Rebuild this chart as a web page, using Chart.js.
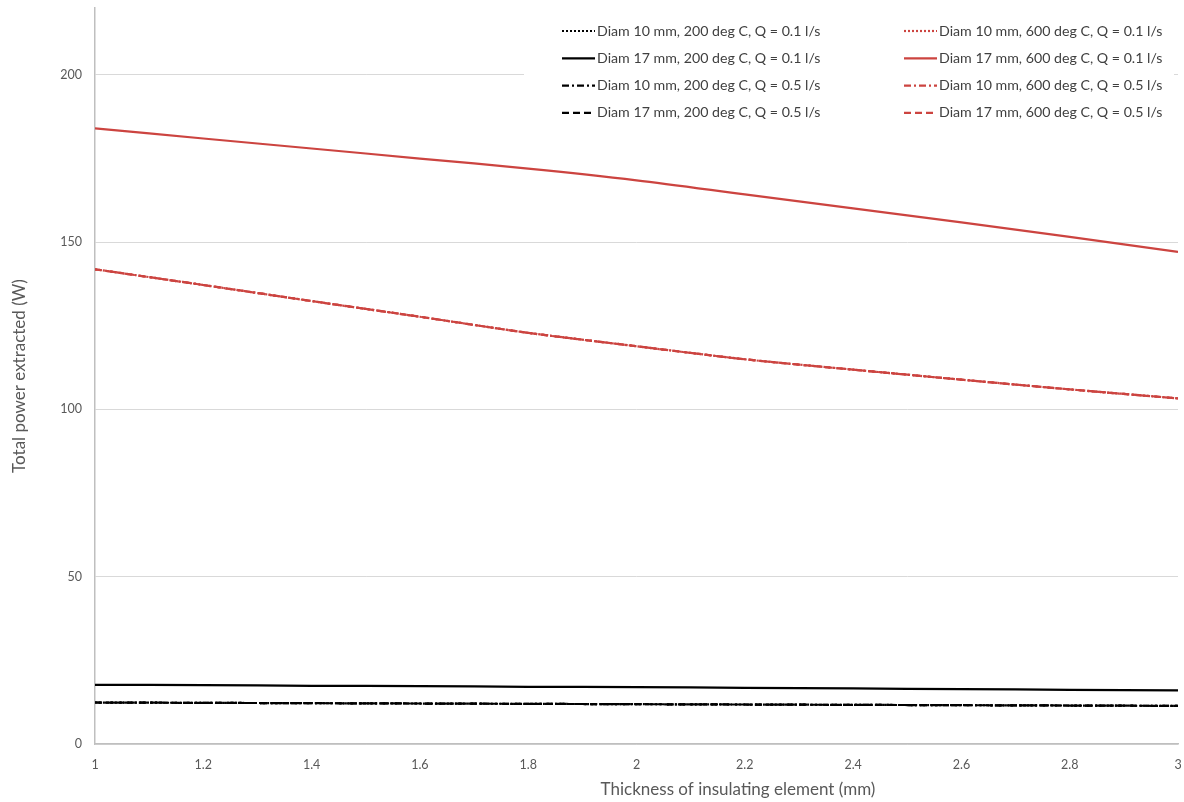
<!DOCTYPE html>
<html>
<head>
<meta charset="utf-8">
<script src="https://cdn.jsdelivr.net/npm/chart.js@4.4.1/dist/chart.umd.min.js"></script>
<style>
  html, body { margin: 0; padding: 0; background: #fff; }
  #wrap { width: 1184px; height: 802px; position: relative; }
</style>
</head>
<body>
<div id="wrap"><canvas id="powerChart"></canvas></div>
<script>
// ── Data ──
const thickness = [1, 1.2, 1.4, 1.6, 1.8, 2, 2.2, 2.4, 2.6, 2.8, 3];

const blackD10Q01 = [12.4, 12.3, 12.2, 12.1, 12.0, 11.9, 11.8, 11.7, 11.6, 11.5, 11.4];
const blackD17Q01 = [17.7, 17.6, 17.4, 17.3, 17.1, 17.0, 16.8, 16.6, 16.4, 16.2, 16.0];
const blackD10Q05 = [12.4, 12.3, 12.2, 12.1, 12.0, 11.9, 11.8, 11.7, 11.6, 11.5, 11.4];
const blackD17Q05 = [12.4, 12.3, 12.2, 12.1, 12.0, 11.9, 11.8, 11.7, 11.6, 11.5, 11.4];

const redD10Q01 = [141.9, 137.2, 132.4, 127.7, 122.9, 118.9, 115.0, 111.9, 108.9, 106.0, 103.3];
const redD17Q01 = [184.0, 181.0, 178.0, 175.0, 172.0, 168.5, 164.3, 160.1, 155.9, 151.6, 147.1];
const redD10Q05 = [141.9, 137.2, 132.4, 127.7, 122.9, 118.9, 115.0, 111.9, 108.9, 106.0, 103.3];
const redD17Q05 = [141.9, 137.2, 132.4, 127.7, 122.9, 118.9, 115.0, 111.9, 108.9, 106.0, 103.3];

const seriesLabels = [
  'Diam 10 mm, 200 deg C, Q = 0.1 l/s',
  'Diam 17 mm, 200 deg C, Q = 0.1 l/s',
  'Diam 10 mm, 200 deg C, Q = 0.5 l/s',
  'Diam 17 mm, 200 deg C, Q = 0.5 l/s',
  'Diam 10 mm, 600 deg C, Q = 0.1 l/s',
  'Diam 17 mm, 600 deg C, Q = 0.1 l/s',
  'Diam 10 mm, 600 deg C, Q = 0.5 l/s',
  'Diam 17 mm, 600 deg C, Q = 0.5 l/s',
];
const seriesValues = [blackD10Q01, blackD17Q01, blackD10Q05, blackD17Q05,
                      redD10Q01, redD17Q01, redD10Q05, redD17Q05];

const yTicks = [0, 50, 100, 150, 200];
const xTitle = 'Thickness of insulating element (mm)';
const yTitle = 'Total power extracted (W)';

// ── Styles ──
const BLACK = '#000000';
const RED   = '#cc4440';
const GRID  = '#d9d9d9';
const AXIS  = '#bfbfbf';
const TEXT  = '#595959';
const FONT  = "Lato, 'Open Sans', sans-serif";

const DOTTED  = [2, 2];
const SOLID   = [];
const DASHDOT = [7, 3, 2, 3];
const DASHED  = [7, 4];
const dashes  = [DOTTED, SOLID, DASHDOT, DASHED];

const datasets = seriesValues.map((vals, i) => ({
  label: seriesLabels[i],
  data: vals.map((v, j) => ({ x: thickness[j], y: v })),
  borderColor: i < 4 ? BLACK : RED,
  borderDash: dashes[i % 4],
  borderWidth: 2.2,
  pointRadius: 0,
  fill: false,
  tension: 0.3,
}));

// ── Legend drawn in the plot, two columns, plus x title ──
const legendPlugin = {
  id: 'boxLegend',
  afterDatasetsDraw(chart) {
    const ctx = chart.ctx;
    ctx.save();
    ctx.fillStyle = '#fff';
    ctx.fillRect(524, 14, 650, 112);
    ctx.font = '14.2px ' + FONT;
    ctx.textBaseline = 'middle';
    chart.data.datasets.forEach((ds, i) => {
      const col = Math.floor(i / 4), row = i % 4;
      const x0 = col ? 904 : 562;
      const y = 31 + row * 27.3;
      ctx.strokeStyle = ds.borderColor;
      ctx.lineWidth = 2.2;
      ctx.setLineDash(ds.borderDash);
      ctx.beginPath();
      ctx.moveTo(x0, y);
      ctx.lineTo(x0 + 33, y);
      ctx.stroke();
      ctx.setLineDash([]);
      ctx.fillStyle = '#404040';
      ctx.fillText(ds.label, x0 + 35, y);
    });
    ctx.font = '17px ' + FONT;
    ctx.fillStyle = TEXT;
    ctx.textAlign = 'center';
    ctx.fillText(xTitle, 738, 790);
    ctx.restore();
  }
};

new Chart(document.getElementById('powerChart'), {
  type: 'line',
  data: { datasets },
  plugins: [legendPlugin],
  options: {
    responsive: true,
    maintainAspectRatio: false,
    animation: false,
    layout: { padding: { left: 0, right: 6, top: 8, bottom: 0 } },
    plugins: { legend: { display: false }, tooltip: { enabled: false } },
    scales: {
      x: {
        type: 'linear',
        min: 1, max: 3,
        afterFit: s => { s.height = 58; s.paddingLeft = 0; s.paddingRight = 0; },
        grid: { display: false },
        border: { color: AXIS, width: 1.5 },
        ticks: {
          stepSize: 0.2,
          padding: 5,
          color: TEXT,
          font: { family: FONT, size: 12.5 },
          maxRotation: 0,
          callback: v => String(Math.round(v * 10) / 10),
        },
      },
      y: {
        min: 0, max: 220,
        afterFit: s => { s.width = 95; s.paddingTop = 0; s.paddingBottom = 0; },
        afterBuildTicks: s => { s.ticks = yTicks.map(v => ({ value: v })); },
        grid: { color: GRID, drawTicks: false },
        border: { color: AXIS, width: 1.5 },
        ticks: {
          padding: 13,
          color: TEXT,
          font: { family: FONT, size: 12.5 },
        },
        title: {
          display: true,
          text: yTitle,
          color: TEXT,
          font: { family: FONT, size: 17 },
          padding: { top: 9, bottom: 0 },
        },
      },
    },
  },
});
</script>
</body>
</html>
